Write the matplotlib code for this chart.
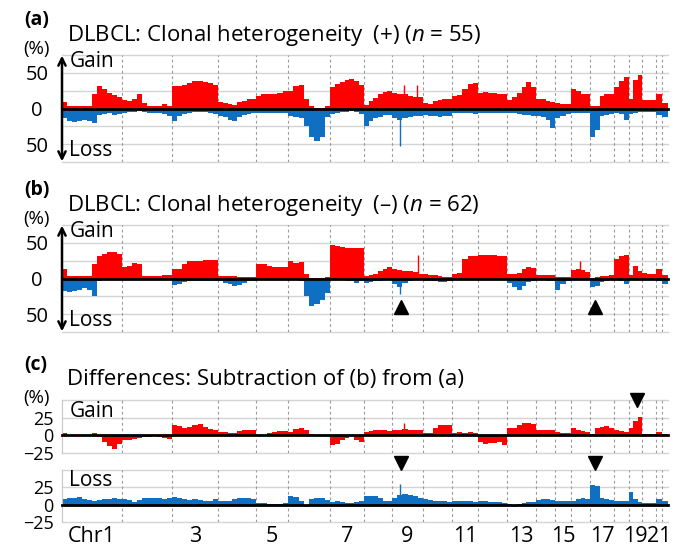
import numpy as np
import matplotlib
matplotlib.use('Agg')
import matplotlib.pyplot as plt

plt.rcParams['font.family'] = ['Open Sans', 'DejaVu Sans']
plt.rcParams['mathtext.fontset'] = 'custom'
plt.rcParams['mathtext.rm'] = 'Open Sans'
plt.rcParams['mathtext.it'] = 'Open Sans:italic'

# relative chromosome widths on the genome axis
chrom_len = [60, 50, 46, 38, 32, 42, 34, 28, 31, 29, 26, 29, 29, 19, 16, 19, 24, 15, 13, 14, 6, 6]
chrom_labels = ['Chr1', '', '3', '', '5', '', '7', '', '9', '', '11', '', '13', '', '15', '', '17', '', '19', '', '21', '']

# (a) clonal heterogeneity (+), % of cases, binned along each chromosome
gain_a = [
    [9, 4, 3, 4, 3, 4, 20, 32, 28, 22, 19, 16],
    [12, 11, 14, 20, 8, 3, 3, 4, 6, 4],
    [31, 32, 33, 36, 38, 38, 37, 36, 33],
    [9, 8, 6, 5, 9, 11, 13, 14],
    [18, 20, 20, 21, 22, 25],
    [24, 31, 33, 14, 3, 1, 1, 3],
    [30, 34, 37, 40, 42, 38, 33],
    [5, 10, 15, 20, 23, 24],
    [22, 21, 20, 17, 16, 16],
    [8, 7, 10, 12, 13, 14],
    [17, 19, 28, 35, 36],
    [22, 23, 22, 22, 21, 21],
    [12, 16, 22, 30, 37, 30],
    [14, 13, 10, 9],
    [8, 7, 7],
    [27, 24, 21, 20],
    [3, 4, 18, 20, 21],
    [30, 38, 44],
    [14, 40, 47],
    [12, 12, 12],
    [20],
    [8],
]
loss_a = [
    [14, 17, 19, 18, 16, 17, 20, 9, 8, 7, 9, 8],
    [6, 5, 5, 4, 5, 6, 6, 7, 8, 10],
    [18, 10, 8, 6, 5, 5, 5, 6, 8],
    [10, 12, 16, 18, 12, 9, 8, 7],
    [6, 6, 6, 7, 7, 6],
    [10, 12, 14, 25, 40, 45, 40, 12],
    [8, 6, 5, 5, 4, 5, 8],
    [24, 18, 14, 12, 9, 9],
    [14, 16, 13, 12, 11, 10],
    [9, 10, 11, 12, 11, 10],
    [6, 6, 6, 7, 8],
    [6, 7, 7, 6, 6, 6],
    [7, 7, 8, 9, 9, 10],
    [10, 12, 16, 28],
    [14, 10, 8],
    [7, 6, 6, 6],
    [40, 30, 10, 9, 8],
    [7, 8, 16],
    [8, 6, 5],
    [5, 5, 5],
    [9],
    [12],
]

# (b) clonal heterogeneity (-)
gain_b = [
    [13, 3, 3, 3, 3, 3, 20, 31, 34, 37, 37, 35],
    [16, 18, 22, 20, 4, 3, 4, 4, 5, 5],
    [13, 14, 20, 24, 25, 25, 26, 26, 26],
    [3, 3, 3, 3, 2, 2, 2, 2],
    [21, 20, 17, 16, 16, 16],
    [24, 22, 23, 6, 1, 1, 1, 2],
    [47, 45, 44, 43, 43, 43, 43],
    [4, 5, 7, 10, 14, 16],
    [13, 12, 11, 10, 9, 7],
    [6, 5, 5, 3, 2, 2],
    [7, 8, 27, 31, 32],
    [33, 33, 33, 33, 32, 32],
    [6, 7, 8, 14, 16, 15],
    [5, 5, 5, 5],
    [2, 2, 2],
    [12, 14, 12, 9],
    [1, 2, 3, 4, 5],
    [28, 32, 33],
    [5, 18, 10],
    [8, 7, 7],
    [14],
    [5],
]
loss_b = [
    [17, 19, 18, 16, 14, 16, 25, 3, 2, 2, 2, 2],
    [2, 2, 2, 2, 1, 1, 1, 1, 1, 1],
    [9, 8, 5, 4, 4, 3, 3, 3, 3],
    [4, 6, 8, 11, 9, 6, 4, 3],
    [2, 2, 2, 2, 2, 2],
    [2, 2, 3, 25, 38, 36, 30, 20],
    [2, 2, 2, 3, 3, 6, 4],
    [7, 5, 4, 3, 2, 2],
    [8, 12, 6, 3, 2, 2],
    [3, 4, 4, 5, 5, 4],
    [2, 2, 2, 2, 2],
    [1, 1, 1, 1, 1, 1],
    [6, 12, 16, 10, 5, 3],
    [2, 2, 3, 3],
    [16, 8, 4],
    [2, 2, 2, 2],
    [12, 10, 5, 3, 2],
    [2, 3, 8],
    [2, 2, 2],
    [2, 2, 2],
    [3],
    [8],
]

# (c) differences (a) - (b)
diff_gain = [
    [4, 1, 1, 1, 1, 1, 4, -3, -9, -15, -19, -12],
    [-7, -6, -5, -4, -2, -2, -1, -2, -4, -5],
    [15, 13, 10, 12, 15, 16, 12, 9, 7],
    [5, 5, 4, 3, 6, 8, 8, 7],
    [1, 1, 3, 5, 6, 6],
    [5, 9, 11, 7, 2, 1, 1, 1],
    [-13, -12, -7, -4, 0, -7, -9],
    [5, 6, 7, 7, 7, 6],
    [8, 8, 9, 8, 7, 8],
    [3, 3, 10, 14, 15, 14],
    [3, 5, 3, 5, 4],
    [-10, -12, -11, -11, -10, -13],
    [10, 10, 14, 17, 18, 16],
    [8, 8, 8, 7],
    [5, 4, 3],
    [10, 8, 6, 5],
    [2, 10, 12, 13, 11],
    [8, 6, 5],
    [10, 20, 26],
    [2, 2, 2],
    [5],
    [2],
]
diff_loss = [
    [8, 10, 10, 11, 8, 7, 5, 7, 8, 8, 9, 8],
    [8, 7, 4, 7, 9, 10, 10, 9, 8, 9],
    [11, 10, 8, 7, 8, 7, 6, 6, 8],
    [6, 5, 6, 8, 10, 10, 9, 8],
    [3, 2, 1, 1, 1, 2],
    [12, 11, 6, -3, 8, 10, 9, 7],
    [4, 5, 4, 3, 3, 4, 5],
    [12, 13, 12, 10, 6, 5],
    [10, 14, 15, 14, 12, 9],
    [8, 7, 6, 5, 5, 4],
    [5, 5, 6, 5, 4],
    [5, 5, 4, 4, 4, 3],
    [1, -3, 1, 3, 4, 4],
    [7, 8, 8, 7],
    [6, 6, 5],
    [6, 8, 9, 8],
    [28, 27, 10, 8, 7],
    [6, 5, 5],
    [18, 8, 4],
    [3, 3, 3],
    [8],
    [6],
]

# narrow single-probe spikes: (chromosome, position within chromosome, value)
spikes_gain_a = [(9, 0.38, 33), (9, 0.81, 33)]
spikes_loss_a = [(9, 0.27, 52)]
spikes_gain_b = [(9, 0.84, 33), (16, 0.47, 24)]
spikes_loss_b = [(9, 0.27, 22)]
spikes_diff_gain = [(9, 0.38, 18)]
spikes_diff_loss = [(9, 0.27, 30)]

# arrowheads marking regions of interest: (chromosome, position within chromosome)
marks_b = [(9, 0.3), (17, 0.2)]
marks_c_gain = [(19, 0.6)]
marks_c_loss = [(9, 0.3), (17, 0.2)]

RED = '#ff0000'
BLUE = '#0f6fc2'

starts = np.concatenate([[0], np.cumsum(chrom_len)[:-1]])
bounds = np.cumsum(chrom_len)[:-1]
total = sum(chrom_len)
centers = starts + np.array(chrom_len) / 2


def genome_x(chrom, frac):
    return starts[chrom - 1] + frac * chrom_len[chrom - 1]


def fill_profile(ax, series, sign, color):
    for start, length, vals in zip(starts, chrom_len, series):
        n = len(vals)
        x = start + length * np.arange(n + 1) / n
        y = sign * np.array(vals + [vals[-1]], dtype=float)
        ax.fill_between(x, 0, y, step='post', color=color, linewidth=0, zorder=2)


def add_spikes(ax, spikes, sign, color):
    for chrom, frac, val in spikes:
        ax.vlines(genome_x(chrom, frac), 0, sign * val, color=color, linewidth=1, zorder=2)


def base_axes(ax, ylim, grid):
    ax.set_xlim(0, total)
    ax.set_ylim(*ylim)
    for g in grid:
        ax.axhline(g, color='#d4d4d4', lw=1, zorder=0, clip_on=False)
    for b in bounds:
        ax.axvline(b, color='#9a9a9a', lw=0.8, ls=(0, (2.5, 2.5)), zorder=0.5)
    ax.axhline(0, color='black', lw=2, zorder=3, clip_on=False)
    for s in ['top', 'right', 'bottom', 'left']:
        ax.spines[s].set_visible(False)
    ax.set_xticks([])


W, H = 675, 547
fig = plt.figure(figsize=(W / 100, H / 100), dpi=100)


def px_axes(x0, y0, x1, y1):
    return fig.add_axes([x0 / W, 1 - y1 / H, (x1 - x0) / W, (y1 - y0) / H])


def px_text(x, y, s, **kw):
    fig.text(x / W, 1 - y / H, s, **kw)


def cn_panel(y0, y1, gain, loss, sp_gain, sp_loss, label, title, ytop):
    ax = px_axes(62, y0, 668, y1)
    base_axes(ax, (-75, 75), [75, 50, 25, -25, -50, -75])
    fill_profile(ax, gain, 1, RED)
    fill_profile(ax, loss, -1, BLUE)
    add_spikes(ax, sp_gain, 1, RED)
    add_spikes(ax, sp_loss, -1, BLUE)
    ax.set_yticks([50, 0, -50])
    ax.set_yticklabels(['50', '0', '50'], ha='center')
    ax.tick_params(axis='y', length=0, pad=18, labelsize=14.5)
    ax.annotate('', xy=(0, 1.02), xytext=(0, -0.02), xycoords='axes fraction',
                textcoords='axes fraction', annotation_clip=False,
                arrowprops=dict(arrowstyle='<->', lw=1.8, color='black', mutation_scale=13))
    ax.text(0.012, 0.94, 'Gain', transform=ax.transAxes, fontsize=15, va='center', zorder=4)
    ax.text(0.012, 0.11, 'Loss', transform=ax.transAxes, fontsize=15, va='center', zorder=4)
    px_text(24, ytop - 16, label, fontsize=14, fontweight='bold', va='center')
    px_text(67, ytop, title, fontsize=16, va='center')
    px_text(36, ytop + 13, '(%)', fontsize=13.5, ha='center', va='center')
    return ax


cn_panel(55, 162, gain_a, loss_a, spikes_gain_a, spikes_loss_a, '(a)',
         r'DLBCL: Clonal heterogeneity  (+) ($n$ = 55)', 36)
ax_b = cn_panel(225, 332, gain_b, loss_b, spikes_gain_b, spikes_loss_b, '(b)',
                r'DLBCL: Clonal heterogeneity  (–) ($n$ = 62)', 206)
for chrom, frac in marks_b:
    ax_b.plot(genome_x(chrom, frac), -40, marker='^', color='black', ms=10, zorder=5)


def diff_panel(y0, y1, series, spikes, color, name):
    ax = px_axes(62, y0, 668, y1)
    base_axes(ax, (-25, 50), [50, 25, -25])
    ax.spines['left'].set_visible(True)
    ax.spines['left'].set_color('#c8c8c8')
    fill_profile(ax, series, 1, color)
    add_spikes(ax, spikes, 1, color)
    ax.set_yticks([25, 0, -25])
    ax.set_yticklabels(['25', '0', '\u221225'])
    ax.tick_params(axis='y', length=0, pad=6, labelsize=13)
    ax.text(0.012, 0.79, name, transform=ax.transAxes, fontsize=15, va='center', zorder=4)
    return ax


ax_cg = diff_panel(400, 453, diff_gain, spikes_diff_gain, RED, 'Gain')
ax_cl = diff_panel(470, 522, diff_loss, spikes_diff_loss, BLUE, 'Loss')
for chrom, frac in marks_c_gain:
    ax_cg.plot(genome_x(chrom, frac), 50, marker='v', color='black', ms=10, zorder=5, clip_on=False)
for chrom, frac in marks_c_loss:
    ax_cl.plot(genome_x(chrom, frac), 60, marker='v', color='black', ms=10, zorder=5, clip_on=False)
ax_cl.set_xticks(centers)
ax_cl.set_xticklabels(chrom_labels, fontsize=15.5)
ax_cl.tick_params(axis='x', length=0, pad=3)

px_text(24, 365, '(c)', fontsize=14, fontweight='bold', va='center')
px_text(67, 380, 'Differences: Subtraction of (b) from (a)', fontsize=16, va='center')
px_text(36, 398, '(%)', fontsize=13.5, ha='center', va='center')

fig.savefig('out.png', dpi=100)
